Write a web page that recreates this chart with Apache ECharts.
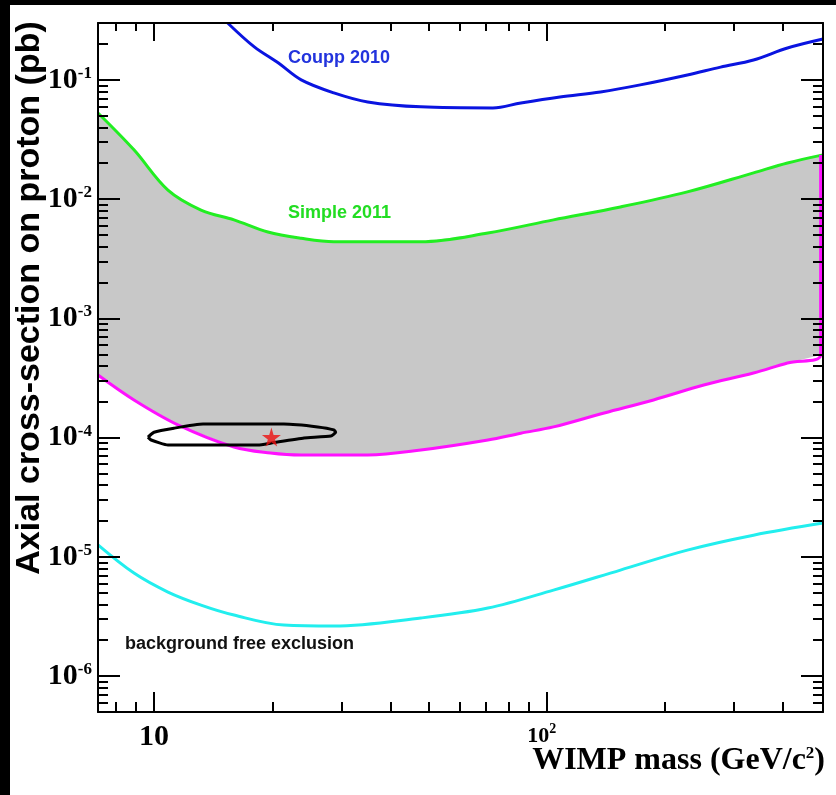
<!DOCTYPE html>
<html>
<head>
<meta charset="utf-8">
<script src="https://cdn.jsdelivr.net/npm/echarts@6/dist/echarts.min.js"></script>
<style>
  html, body { margin: 0; padding: 0; background: #000; }
  #chart { position: absolute; left: 10px; top: 5px; width: 826px; height: 790px; }
</style>
</head>
<body>
<div id="chart"></div>
<script>
// axis ranges (GeV/c^2, pb)
const X_MIN = 7.2, X_MAX = 505;
const Y_MIN = 5e-7, Y_MAX = 0.3;

// tick positions
const xMajorTicks = [10, 100];
const xMinorTicks = [8, 9, 20, 30, 40, 50, 60, 70, 80, 90, 200, 300, 400];
const yMajorTicks = [1e-6, 1e-5, 1e-4, 1e-3, 1e-2, 1e-1];
const yMinorTicks = [
  6e-7, 7e-7, 8e-7, 9e-7,
  2e-6, 3e-6, 4e-6, 5e-6, 6e-6, 7e-6, 8e-6, 9e-6,
  2e-5, 3e-5, 4e-5, 5e-5, 6e-5, 7e-5, 8e-5, 9e-5,
  2e-4, 3e-4, 4e-4, 5e-4, 6e-4, 7e-4, 8e-4, 9e-4,
  2e-3, 3e-3, 4e-3, 5e-3, 6e-3, 7e-3, 8e-3, 9e-3,
  2e-2, 3e-2, 4e-2, 5e-2, 6e-2, 7e-2, 8e-2, 9e-2,
  0.2
];

// Coupp 2010 limit
const couppX = [15.4, 18.0, 20.7, 23.7, 28.7, 35.0, 47.8, 72.9, 85.9, 108, 137, 173, 228, 277, 336, 410, 505];
const couppY = [0.30, 0.189, 0.139, 0.100, 0.0778, 0.0653, 0.0594, 0.0582, 0.0641, 0.0720, 0.0793, 0.0908, 0.110, 0.128, 0.147, 0.185, 0.22];

// Simple 2011 limit
const simpleX = [7.2, 8.89, 10.85, 13.17, 15.98, 19.5, 23.7, 28.7, 47.8, 70.8, 104, 154, 228, 336, 410, 505];
const simpleY = [0.0528, 0.0259, 0.0119, 0.0081, 0.0067, 0.0053, 0.0047, 0.0044, 0.0044, 0.0052, 0.0067, 0.0086, 0.0115, 0.0166, 0.0201, 0.0235];

// discovery (>= 3 sigma) lower bound
const discX = [7.2, 8.89, 11.5, 15.98, 19.8, 23.7, 35.0, 47.8, 70.8, 85.9, 104, 140, 187, 251, 336, 410, 498];
const discY = [3.35e-4, 2.07e-4, 1.28e-4, 8.34e-5, 7.43e-5, 7.15e-5, 7.15e-5, 7.87e-5, 9.55e-5, 1.09e-4, 1.23e-4, 1.61e-4, 2.07e-4, 2.76e-4, 3.48e-4, 4.23e-4, 4.93e-4];

// background free exclusion
const exclX = [7.2, 8.89, 10.85, 13.17, 15.98, 21.4, 28.7, 47.8, 70.8, 104, 154, 228, 336, 505];
const exclY = [1.26e-5, 7.31e-6, 5.07e-6, 3.94e-6, 3.25e-6, 2.68e-6, 2.63e-6, 3.07e-6, 3.72e-6, 5.26e-6, 7.75e-6, 1.14e-5, 1.52e-5, 1.92e-5];

// allowed region contour + best fit
const contourX = [9.65, 10, 11.24, 13.33, 21.4, 26.1, 28.7, 29.0, 28.2, 24.1, 19.9, 18.4, 15.7, 10.85, 9.83, 9.65];
const contourY = [1.01e-4, 1.11e-4, 1.20e-4, 1.30e-4, 1.30e-4, 1.23e-4, 1.16e-4, 1.11e-4, 1.03e-4, 9.93e-5, 9.01e-5, 8.67e-5, 8.67e-5, 8.67e-5, 9.55e-5, 1.01e-4];
const bestFitX = [19.9];
const bestFitY = [1.01e-4];

const zip = (xs, ys) => xs.map((x, i) => [x, ys[i]]);

const SERIF = '"Liberation Serif", "DejaVu Serif", serif';
const SANS = '"Liberation Sans", Arial, sans-serif';
const TICK = { color: '#000', width: 2 };

const powLabel = {
  b: { fontFamily: SERIF, fontWeight: 'bold', fontSize: 30, color: '#000', lineHeight: 30, verticalAlign: 'bottom' },
  s: { fontFamily: SERIF, fontWeight: 'bold', fontSize: 17, color: '#000', lineHeight: 17, verticalAlign: 'top' },
  m: { fontFamily: SERIF, fontWeight: 'bold', fontSize: 22, color: '#000', lineHeight: 25, verticalAlign: 'bottom' },
  ms: { fontFamily: SERIF, fontWeight: 'bold', fontSize: 14, color: '#000', lineHeight: 16, verticalAlign: 'top', padding: [0, 10, 0, 0] }
};
function powFormatter(v) {
  const e = Math.round(Math.log10(v));
  return e === 1 ? '{b|10}' : '{b|10}{s|' + e + '}';
}
// the 10^2 label on the mass axis is set smaller in the original
function massFormatter(v) {
  const e = Math.round(Math.log10(v));
  return e === 1 ? '{b|10}' : '{m|10}{ms|' + e + '}';
}

function xAxisOf(position, ticks, len, withLabel) {
  return {
    type: 'log', logBase: 10, min: X_MIN, max: X_MAX, position: position, z: 5,
    splitLine: { show: false },
    axisLine: { show: withLabel !== undefined, lineStyle: TICK },
    axisTick: { show: true, inside: true, length: len, customValues: ticks, lineStyle: TICK },
    axisLabel: withLabel ? {
      show: true, customValues: ticks, margin: 10, formatter: massFormatter, rich: powLabel
    } : { show: false }
  };
}
function yAxisOf(position, ticks, len, withLabel) {
  return {
    type: 'log', logBase: 10, min: Y_MIN, max: Y_MAX, position: position, z: 5,
    splitLine: { show: false },
    axisLine: { show: withLabel !== undefined, lineStyle: TICK },
    axisTick: { show: true, inside: true, length: len, customValues: ticks, lineStyle: TICK },
    axisLabel: withLabel ? {
      show: true, customValues: ticks, margin: 6, formatter: powFormatter, rich: powLabel
    } : { show: false }
  };
}

const chart = echarts.init(document.getElementById('chart'));

chart.setOption({
  animation: false,
  backgroundColor: '#fff',
  grid: { left: 88, top: 18, right: 13, bottom: 83, containLabel: false },
  xAxis: [
    xAxisOf('bottom', xMajorTicks, 20, true),
    xAxisOf('top', xMajorTicks, 18, false),
    xAxisOf('bottom', xMinorTicks, 10),
    xAxisOf('top', xMinorTicks, 8)
  ],
  yAxis: [
    yAxisOf('left', yMajorTicks, 22, true),
    yAxisOf('right', yMajorTicks, 22, false),
    yAxisOf('left', yMinorTicks, 10),
    yAxisOf('right', yMinorTicks, 10)
  ],
  series: [
    {
      type: 'custom', name: 'discovery band', z: 1, silent: true, clip: true,
      data: [[20, 1e-3]],
      renderItem: function (params, api) {
        const upper = simpleX.map((x, i) => api.coord([x, simpleY[i]]));
        const lower = discX.map((x, i) => api.coord([x, discY[i]])).reverse();
        return { type: 'polygon', shape: { points: upper.concat(lower), smooth: 0 }, style: { fill: '#c8c8c8' } };
      }
    },
    {
      type: 'line', name: 'Coupp 2010', data: zip(couppX, couppY), showSymbol: false, smooth: 0.35,
      lineStyle: { color: '#0a14e0', width: 3 }, z: 3
    },
    {
      type: 'line', name: 'Simple 2011', data: zip(simpleX, simpleY), showSymbol: false, smooth: 0.35,
      lineStyle: { color: '#22ee22', width: 3 }, z: 3
    },
    {
      type: 'line', name: 'Discovery', showSymbol: false, smooth: 0.35,
      data: zip(discX, discY).concat([[discX[discX.length - 1], simpleY[simpleY.length - 1]]]),
      lineStyle: { color: '#ff11ff', width: 3 }, z: 3
    },
    {
      type: 'line', name: 'background free exclusion', data: zip(exclX, exclY), showSymbol: false, smooth: 0.35,
      lineStyle: { color: '#22eeee', width: 3 }, z: 3
    },
    {
      type: 'line', name: 'contour', data: zip(contourX, contourY), showSymbol: false, smooth: 0.15,
      lineStyle: { color: '#000', width: 3 }, z: 4
    },
    {
      type: 'scatter', name: 'best fit', data: zip(bestFitX, bestFitY),
      symbol: 'path://M50,0 L61,35 L98,35 L68,57 L79,91 L50,70 L21,91 L32,57 L2,35 L39,35 Z',
      symbolSize: 19, itemStyle: { color: '#ee1111' }, z: 4
    }
  ],
  graphic: [
    { type: 'text', x: 278, y: 53, style: { text: 'Coupp 2010', font: 'bold 18px ' + SANS, fill: '#2233dd', verticalAlign: 'middle' } },
    { type: 'text', x: 278, y: 208, style: { text: 'Simple 2011', font: 'bold 18px ' + SANS, fill: '#22dd22', verticalAlign: 'middle' } },
    { type: 'text', x: 450, y: 357, style: { text: 'Discovery : evidence', font: 'bold 18px ' + SANS, fill: '#111', verticalAlign: 'middle' } },
    { type: 'text', x: 658, y: 357, style: { text: '\u2265 3\u03c3', font: 'bold 18px ' + SANS, fill: '#111', verticalAlign: 'middle' } },
    { type: 'text', x: 115, y: 639, style: { text: 'background free exclusion', font: 'bold 18px ' + SANS, fill: '#111', verticalAlign: 'middle' } },
    {
      type: 'text', x: 20, y: 293, rotation: Math.PI / 2,
      style: { text: 'Axial cross-section on proton (pb)', font: 'bold 34px ' + SANS, fill: '#000', align: 'center', verticalAlign: 'middle' }
    },
    {
      type: 'text', x: 815, y: 756,
      style: {
        text: '{t|WIMP mass (GeV/c}{s|2}{t|)}', align: 'right', verticalAlign: 'middle',
        rich: {
          t: { fontFamily: SERIF, fontWeight: 'bold', fontSize: 32, fill: '#000', lineHeight: 32, verticalAlign: 'bottom' },
          s: { fontFamily: SERIF, fontWeight: 'bold', fontSize: 17, fill: '#000', lineHeight: 17, verticalAlign: 'top' }
        }
      }
    }
  ]
});
</script>
</body>
</html>
